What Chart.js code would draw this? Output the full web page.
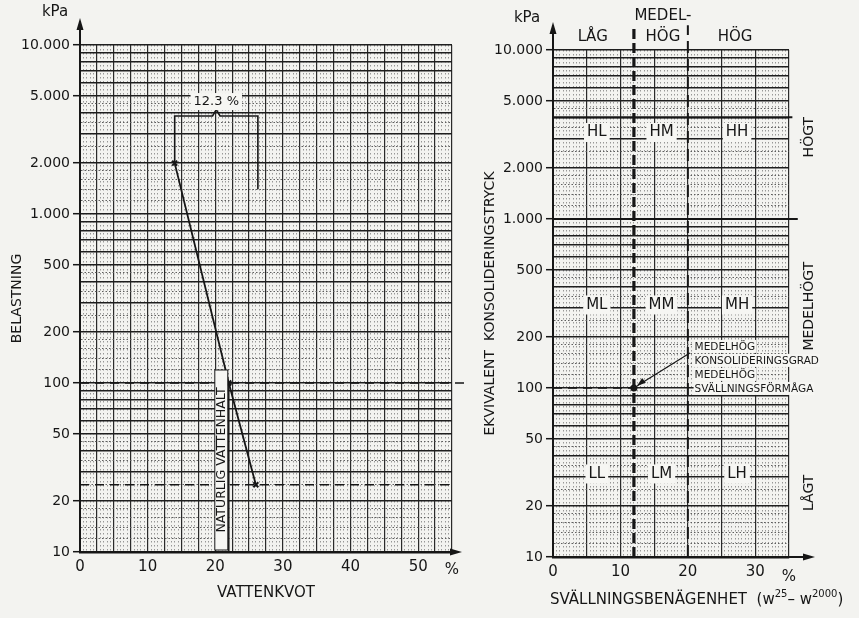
<!DOCTYPE html>
<html>
<head>
<meta charset="utf-8">
<script src="https://cdn.jsdelivr.net/npm/chart.js@4.4.1/dist/chart.umd.min.js"></script>
<style>
	body { margin: 0; background: #f3f3f0; }
	#wrap { position: relative; width: 859px; height: 618px; }
	#left { position: absolute; left: 0; top: 0; }
	#right { position: absolute; left: 470px; top: 0; }
</style>
</head>
<body>
<div id="wrap">
	<canvas id="left" width="470" height="618"></canvas>
	<canvas id="right" width="389" height="618"></canvas>
</div>
<script>
//tick labels (kPa on log axis, % on linear axis)
var loadTicks = [10, 20, 50, 100, 200, 500, 1000, 2000, 5000, 10000];
var loadTickLabels = ['10', '20', '50', '100', '200', '500', '1.000', '2.000', '5.000', '10.000'];
var waterTicks = [0, 10, 20, 30, 40, 50];
var swellTicks = [0, 10, 20, 30];

//left panel: load test curve
var curveWater = [14, 22, 26];
var curveLoad = [2000, 100, 25];
var naturalWater = 22;
var refLoads = [100, 25];
var braceWater = [14, 14, 19.6, 20.15, 20.7, 26.3, 26.3];
var braceLoad = [2000, 3800, 3800, 4150, 3800, 3800, 1400];
var braceLabel = '12.3 %';

//right panel: classification
var classSwell = 12;
var classLoad = 100;
var swellBounds = [12, 20];
var loadBounds = [1000, 4000];
var colNames = ['LÅG', 'MEDEL-|HÖG', 'HÖG'];
var colCenters = [5.9, 16.3, 27];
var rowNames = ['HÖGT', 'MEDELHÖGT', 'LÅGT'];
var rowCenters = [3050, 305, 24];
var zoneNames = [['HL', 'HM', 'HH'], ['ML', 'MM', 'MH'], ['LL', 'LM', 'LH']];
var zoneSwell = [6.5, 16.1, 27.3];
var zoneLoad = [3250, 310, 31];
var noteLines = ['MEDELHÖG', 'KONSOLIDERINGSGRAD', 'MEDELHÖG', 'SVÄLLNINGSFÖRMÅGA'];
var noteAt = [21, 175];

var FONT = 'DejaVu Sans';
var INK = '#161616';

//graph paper lines
function logGrid() {
	var steps = [1, 1.2, 1.4, 1.6, 1.8, 2, 2.5, 3, 3.5, 4, 4.5, 5, 6, 7, 8, 9],
		out = [];
	for ( var e = 1; e <= 3; e++ ) {
		for ( var n = 0; n < steps.length; n++ ) {
			out.push( Math.round(steps[n] * Math.pow(10, e) * 100) / 100 );
		}
	}
	out.push(10000);
	return out;
}
function isMajorLoad( v ) {
	var m = v / Math.pow(10, Math.floor(Math.log10(v) + 1e-9));
	return Math.abs(m - Math.round(m)) < 1e-6;
}
function linGrid( max, step ) {
	var out = [];
	for ( var v = 0; v <= max + 1e-9; v += step ) out.push( Math.round(v * 100) / 100 );
	return out;
}

function pts( xs, ys ) {
	var out = [];
	for ( var n = 0; n < xs.length; n++ ) out.push({ x: xs[n], y: ys[n] });
	return out;
}

function yScale( width, titleText, titlePad ) {
	return {
		type: 'logarithmic',
		min: 10,
		max: 10000,
		afterBuildTicks: function(s) { s.ticks = logGrid().map(function(v) { return { value: v }; }); },
		afterFit: function(s) { s.width = width; },
		ticks: {
			autoSkip: false,
			padding: 3,
			color: INK,
			font: { family: FONT, size: 14 },
			callback: function(v) {
				var i = loadTicks.indexOf(v);
				return i < 0 ? '' : loadTickLabels[i];
			}
		},
		grid: {
			color: function(c) { return c.tick && isMajorLoad(c.tick.value) ? '#1e1e1e' : '#5e5e5e'; },
			lineWidth: function(c) { return c.tick && isMajorLoad(c.tick.value) ? 1.4 : 1; },
			tickLength: 7,
			tickWidth: 1.5,
			tickColor: function(c) { return c.tick && loadTicks.indexOf(c.tick.value) >= 0 ? INK : 'rgba(0,0,0,0)'; }
		},
		border: {
			color: INK,
			width: 2,
			dash: function(c) { return c.tick && !isMajorLoad(c.tick.value) ? [1.5, 2] : []; }
		},
		title: {
			display: true,
			text: titleText,
			color: INK,
			font: { family: FONT, size: 14 },
			padding: { top: titlePad, bottom: 0 }
		}
	};
}

function xScale( max, majorStep, labels, height, titleText, titlePad ) {
	return {
		type: 'linear',
		min: 0,
		max: max,
		afterBuildTicks: function(s) { s.ticks = linGrid(max, 0.5).map(function(v) { return { value: v }; }); },
		afterFit: function(s) { s.height = height; },
		ticks: {
			autoSkip: false,
			maxRotation: 0,
			padding: 2,
			color: INK,
			font: { family: FONT, size: 15 },
			callback: function(v) { return labels.indexOf(v) < 0 ? '' : String(v); }
		},
		grid: {
			color: function(c) { return c.tick && c.tick.value % majorStep === 0 ? '#2a2a2a' : '#808080'; },
			lineWidth: function(c) { return c.tick && c.tick.value % majorStep === 0 ? 1.2 : 0.8; },
			tickLength: 4,
			tickColor: 'rgba(0,0,0,0)'
		},
		border: {
			color: INK,
			width: 2.5,
			dash: function(c) { return c.tick && c.tick.value % majorStep !== 0 ? [1.5, 2.5] : []; }
		},
		title: {
			display: titleText !== '',
			text: titleText,
			color: INK,
			font: { family: FONT, size: 15 },
			padding: { top: 0, bottom: titlePad }
		}
	};
}

function lineSet( data, width, dash ) {
	return {
		data: data,
		showLine: true,
		borderColor: INK,
		borderWidth: width,
		borderDash: dash || [],
		pointRadius: 0,
		clip: false
	};
}

function label( ctx, s, x, y, size, box, rot ) {
	ctx.save();
	ctx.translate(x, y);
	if ( rot ) ctx.rotate(rot);
	ctx.font = size + 'px "' + FONT + '"';
	ctx.textAlign = 'center';
	ctx.textBaseline = 'middle';
	if ( box ) {
		var w = ctx.measureText(s).width;
		ctx.fillStyle = '#f6f6f3';
		ctx.fillRect(-w / 2 - 3, -size / 2 - 2, w + 6, size + 4);
	}
	ctx.fillStyle = INK;
	ctx.fillText(s, 0, 0);
	ctx.restore();
}

function axisArrows( ctx, area, xEnd, yEnd ) {
	ctx.save();
	ctx.strokeStyle = INK;
	ctx.fillStyle = INK;
	ctx.lineWidth = 2;
	ctx.beginPath();
	ctx.moveTo(area.left, area.top);
	ctx.lineTo(area.left, yEnd + 8);
	ctx.moveTo(area.right, area.bottom);
	ctx.lineTo(xEnd - 8, area.bottom);
	ctx.stroke();
	ctx.beginPath();
	ctx.moveTo(area.left, yEnd);
	ctx.lineTo(area.left - 3.5, yEnd + 12);
	ctx.lineTo(area.left + 3.5, yEnd + 12);
	ctx.fill();
	ctx.beginPath();
	ctx.moveTo(xEnd, area.bottom);
	ctx.lineTo(xEnd - 12, area.bottom - 3.5);
	ctx.lineTo(xEnd - 12, area.bottom + 3.5);
	ctx.fill();
	ctx.restore();
}

//left chart
var leftText = {
	id: 'leftText',
	afterDraw: function(chart) {
		var ctx = chart.ctx, x = chart.scales.x, y = chart.scales.y, a = chart.chartArea;
		axisArrows(ctx, a, 462, 18);
		label(ctx, 'kPa', 55, 12, 15, false);
		label(ctx, '%', a.right, a.bottom + 18, 15, false);
		label(ctx, braceLabel, x.getPixelForValue(braceWater[3]), y.getPixelForValue(braceLoad[3]) - 8, 13, true);
		//natural water content
		ctx.save();
		var nx = x.getPixelForValue(naturalWater);
		ctx.fillStyle = '#f6f6f3';
		ctx.fillRect(nx - 14, a.bottom - 182, 13, 180);
		ctx.strokeStyle = INK;
		ctx.lineWidth = 1;
		ctx.strokeRect(nx - 14, a.bottom - 182, 13, 180);
		ctx.restore();
		label(ctx, 'NATURLIG VATTENHALT', nx - 7.5, a.bottom - 92, 12.5, false, -Math.PI / 2);
	}
};

new Chart(document.getElementById('left').getContext('2d'), {
	type: 'scatter',
	data: {
		datasets: [
			Object.assign(lineSet(pts(curveWater, curveLoad), 1.8), { pointRadius: 3.5, pointStyle: 'crossRot', pointBorderWidth: 2, pointBorderColor: INK }),
			lineSet(pts([0, 57], [refLoads[0], refLoads[0]]), 1.6, [9, 6]),
			lineSet(pts([0, 55], [refLoads[1], refLoads[1]]), 1.6, [9, 6]),
			lineSet(pts([naturalWater, naturalWater], [10, curveLoad[1]]), 1.5),
			lineSet(pts(braceWater, braceLoad), 1.6)
		]
	},
	options: {
		responsive: false,
		animation: false,
		layout: { padding: { top: 45, right: 18, left: 0, bottom: 0 } },
		plugins: { legend: { display: false }, tooltip: { enabled: false } },
		scales: {
			x: xScale(55, 2.5, waterTicks, 66, 'VATTENKVOT', 16),
			y: yScale(80, 'BELASTNING', 9)
		}
	},
	plugins: [leftText]
});

//right chart
var rightText = {
	id: 'rightText',
	afterDraw: function(chart) {
		var ctx = chart.ctx, x = chart.scales.x, y = chart.scales.y, a = chart.chartArea, n, m;
		axisArrows(ctx, a, 345, 22);
		label(ctx, 'kPa', 57, 18, 15, false);
		label(ctx, '%', a.right, a.bottom + 20, 15, false);
		for ( n = 0; n < colNames.length; n++ ) {
			var parts = colNames[n].split('|');
			if ( parts.length > 1 ) {
				label(ctx, parts[0], x.getPixelForValue(colCenters[n]), 16, 15, false);
				label(ctx, parts[1], x.getPixelForValue(colCenters[n]), 37, 15, false);
			} else {
				label(ctx, parts[0], x.getPixelForValue(colCenters[n]), 37, 15, false);
			}
		}
		for ( n = 0; n < rowNames.length; n++ ) {
			label(ctx, rowNames[n], 339, y.getPixelForValue(rowCenters[n]), 14, false, -Math.PI / 2);
		}
		for ( n = 0; n < zoneNames.length; n++ ) {
			for ( m = 0; m < zoneNames[n].length; m++ ) {
				label(ctx, zoneNames[n][m], x.getPixelForValue(zoneSwell[m]), y.getPixelForValue(zoneLoad[n]), 15, true);
			}
		}
		//x axis title with superscripts
		ctx.save();
		ctx.fillStyle = INK;
		ctx.textBaseline = 'alphabetic';
		var tx0 = a.left - 3, ty0 = 604;
		var pieces = [['SVÄLLNINGSBENÄGENHET  (w', 15, 0], ['25', 10, -7], ['– w', 15, 0], ['2000', 10, -7], [')', 15, 0]];
		for ( n = 0; n < pieces.length; n++ ) {
			ctx.font = pieces[n][1] + 'px "' + FONT + '"';
			ctx.fillText(pieces[n][0], tx0, ty0 + pieces[n][2]);
			tx0 += ctx.measureText(pieces[n][0]).width;
		}
		ctx.restore();
		//note text with arrow
		var tx = x.getPixelForValue(noteAt[0]), ty = y.getPixelForValue(noteAt[1]);
		ctx.save();
		ctx.font = '10.5px "' + FONT + '"';
		ctx.textBaseline = 'middle';
		for ( n = 0; n < noteLines.length; n++ ) {
			var w = ctx.measureText(noteLines[n]).width;
			ctx.fillStyle = '#f6f6f3';
			ctx.fillRect(tx - 1, ty + n * 14 - 7, w + 2, 13);
			ctx.fillStyle = INK;
			ctx.fillText(noteLines[n], tx, ty + n * 14);
		}
		var px = x.getPixelForValue(classSwell), py = y.getPixelForValue(classLoad);
		var ang = Math.atan2(py - ty + 2, px - tx + 6);
		ctx.translate(px + 3, py - 2);
		ctx.rotate(ang);
		ctx.beginPath();
		ctx.moveTo(0, 0);
		ctx.lineTo(-9, -3);
		ctx.lineTo(-9, 3);
		ctx.fill();
		ctx.restore();
	}
};

new Chart(document.getElementById('right').getContext('2d'), {
	type: 'scatter',
	data: {
		datasets: [
			lineSet(pts([0, classSwell], [classLoad, classLoad]), 1.6, [9, 6]),
			lineSet(pts([swellBounds[0], swellBounds[0]], [10, 14000]), 3.2, [10, 4]),
			lineSet(pts([swellBounds[1], swellBounds[1]], [10, 14000]), 2, [12, 6]),
			lineSet(pts([0, 36.3], [loadBounds[0], loadBounds[0]]), 2),
			lineSet(pts([0, 35.5], [loadBounds[1], loadBounds[1]]), 1.8),
			lineSet(pts([noteAt[0] - 0.7, classSwell + 0.5], [noteAt[1] * 0.92, classLoad * 1.03]), 1.2),
			Object.assign(lineSet(pts([classSwell], [classLoad]), 0), { showLine: false, pointRadius: 3.5, pointBackgroundColor: INK, pointBorderColor: INK })
		]
	},
	options: {
		responsive: false,
		animation: false,
		layout: { padding: { top: 50, right: 70, left: 0, bottom: 0 } },
		plugins: { legend: { display: false }, tooltip: { enabled: false } },
		scales: {
			x: xScale(35, 5, swellTicks, 61, '', 0),
			y: yScale(83, 'EKVIVALENT  KONSOLIDERINGSTRYCK', 12)
		}
	},
	plugins: [rightText]
});
</script>
</body>
</html>
